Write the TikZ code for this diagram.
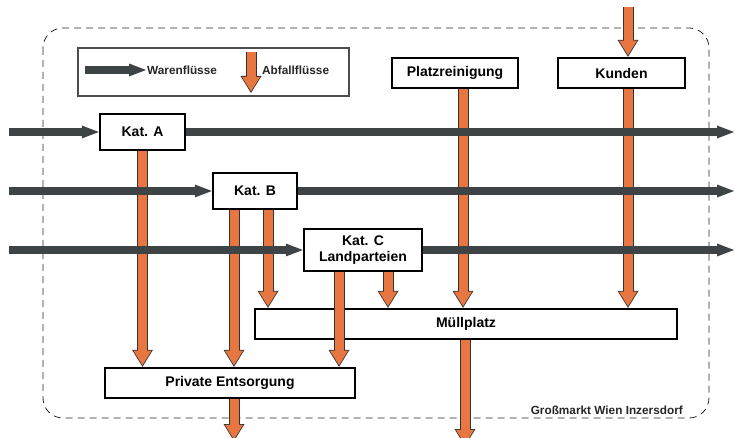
\documentclass[tikz,border=0pt]{standalone}
\usepackage{fontspec}
\setsansfont{Liberation Sans}
\usepackage{tikz}
\usetikzlibrary{arrows.meta,positioning,calc}
\definecolor{ware}{RGB}{62,68,70}
\definecolor{abfall}{RGB}{232,118,64}

\begin{document}
\begin{tikzpicture}[x=1pt,y=-1pt,>=Latex]
  \tikzstyle{box}=[draw,line width=2.4pt,fill=white,inner sep=0pt,align=center,font=\sffamily\bfseries\fontsize{14}{15.5}\selectfont]
  \tikzstyle{lbl}=[inner sep=1pt,text=black!85,font=\sffamily\bfseries\fontsize{11.8}{13}\selectfont]
  \tikzstyle{goods}=[draw=ware,line width=7.5pt,-{Triangle[length=17pt,width=13pt,line width=0pt]}]
  \tikzstyle{waste}=[draw=black!80,line width=11pt,-{Triangle[length=17pt,width=21pt,line width=0pt]},postaction={draw=abfall,line width=9pt,-{Triangle[length=14.5pt,width=18pt,line width=0pt]},shorten >=1.6pt}]
  \useasboundingbox (0,0) rectangle (735,438);
  \draw[black!85,line width=0.8pt,dash pattern=on 7pt off 5pt,rounded corners=20pt] (43,28) rectangle (709,418);
  \node[draw=black!70,line width=1.3pt,minimum width=271,minimum height=48,inner sep=0pt] (legende) at (213.5,72) {};
  \node[lbl,anchor=west] (warentxt) at (146,70) {Warenflüsse};
  \node[lbl,anchor=west] (abfalltxt) at (261,70) {Abfallflüsse};
  \coordinate (lw) at (85,70);
  \coordinate (la) at (251,52);
  \coordinate (lb) at (251,93);
  \node[box,minimum width=85,minimum height=36] (katA) at (142.5,132) {Kat. A};
  \node[box,minimum width=84,minimum height=36] (katB) at (255,191) {Kat. B};
  \node[box,minimum width=118,minimum height=42] (katC) at (363,250) {Kat. C\\Landparteien};
  \node[box,minimum width=126,minimum height=30] (platz) at (455,73) {Platzreinigung};
  \node[box,minimum width=127,minimum height=30] (kunden) at (621.5,73) {Kunden};
  \node[box,minimum width=422,minimum height=30] (muell) at (466,324) {Müllplatz};
  \node[box,minimum width=250,minimum height=30] (privat) at (230,383) {Private Entsorgung};
  \node[lbl,anchor=east] (ort) at (684,410) {Großmarkt Wien Inzersdorf};
  \coordinate (b1) at ([xshift=-21pt]katB.south);
  \coordinate (b2) at ([xshift=13pt]katB.south);
  \coordinate (c1) at ([xshift=-24pt]katC.south);
  \coordinate (c2) at ([xshift=25pt]katC.south);
  \coordinate (p1) at ([xshift=8pt]platz.south);
  \coordinate (k1) at ([xshift=6.5pt]kunden.south);
  \coordinate (kin) at (628,7);
  \coordinate (pout) at (234,441);
  \coordinate (mout) at (465,446);
  \draw[waste] (la)--(lb);
  \draw[waste] (katA.south)--(katA.south |- privat.north);
  \draw[waste] (b1)--(b1 |- privat.north);
  \draw[waste] (b2)--(b2 |- muell.north);
  \draw[waste] (c1)--(c1 |- privat.north);
  \draw[waste] (c2)--(c2 |- muell.north);
  \draw[waste] (p1)--(p1 |- muell.north);
  \draw[waste] (k1)--(k1 |- muell.north);
  \draw[waste] (kin)--(kin |- kunden.north);
  \draw[waste] (pout |- privat.south)--(pout);
  \draw[waste] (mout |- muell.south)--(mout);
  \coordinate (inA) at (9,132);
  \coordinate (outA) at (734,132);
  \coordinate (inB) at (9,191);
  \coordinate (outB) at (734,191);
  \coordinate (inC) at (9,250);
  \coordinate (outC) at (734,250);
  \draw[goods] (lw)--(warentxt.west);
  \draw[goods] (inA)--(katA);
  \draw[goods] (katA)--(outA);
  \draw[goods] (inB)--(katB);
  \draw[goods] (katB)--(outB);
  \draw[goods] (inC)--(katC);
  \draw[goods] (katC)--(outC);
\end{tikzpicture}
\end{document}
